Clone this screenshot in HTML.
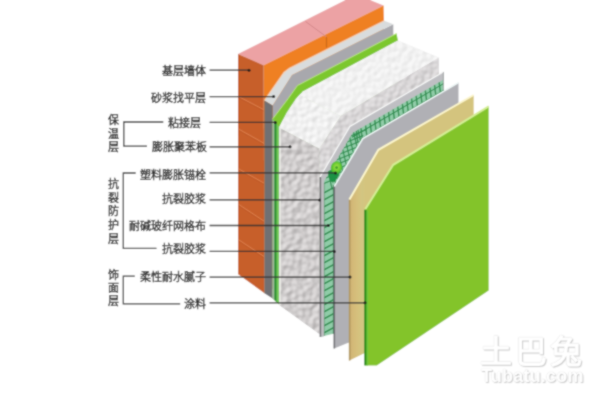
<!DOCTYPE html>
<html lang="zh-CN"><head><meta charset="utf-8">
<style>
html,body{margin:0;padding:0;background:#fff;}
body{width:606px;height:405px;position:relative;overflow:hidden;font-family:"Liberation Sans",sans-serif;}
svg{position:absolute;left:0;top:0;}
.lb{position:absolute;font-size:11px;line-height:15px;color:#383838;font-weight:bold;white-space:nowrap;}
.vl{position:absolute;font-size:11px;line-height:13.3px;color:#383838;font-weight:bold;width:12px;}
.wm{position:absolute;color:#fff;font-weight:bold;white-space:nowrap;text-shadow:0 0 1px #c8c8c8,1px 1px 1px #c8c8c8;}
#wrap{position:absolute;left:0;top:0;width:606px;height:405px;background:#fff;filter:url(#soft);}
</style></head><body><div id="wrap">
<svg width="606" height="405" viewBox="0 0 606 405">
<defs><filter id="tEnd" x="0" y="0" width="100%" height="100%" color-interpolation-filters="sRGB">
<feTurbulence type="fractalNoise" baseFrequency="0.19" numOctaves="1" seed="3" result="n"/>
<feGaussianBlur in="n" stdDeviation="0.7" result="nb"/>
<feDiffuseLighting in="nb" surfaceScale="1.6" diffuseConstant="1" lighting-color="#fff" result="l"><feDistantLight azimuth="225" elevation="45"/></feDiffuseLighting>
<feColorMatrix in="l" type="matrix" values="0 0 0 0 0  0 0 0 0 0  0 0 0 0 0  0 0 0 0 1" result="z"/>
<feComponentTransfer in="l"><feFuncR type="linear" slope="0.380" intercept="0.549"/><feFuncG type="linear" slope="0.380" intercept="0.537"/><feFuncB type="linear" slope="0.380" intercept="0.537"/><feFuncA type="linear" slope="0" intercept="1"/></feComponentTransfer>
</filter><filter id="tMain" x="0" y="0" width="100%" height="100%" color-interpolation-filters="sRGB">
<feTurbulence type="fractalNoise" baseFrequency="0.22" numOctaves="1" seed="5" result="n"/>
<feGaussianBlur in="n" stdDeviation="0.7" result="nb"/>
<feDiffuseLighting in="nb" surfaceScale="1.6" diffuseConstant="1" lighting-color="#fff" result="l"><feDistantLight azimuth="225" elevation="45"/></feDiffuseLighting>
<feColorMatrix in="l" type="matrix" values="0 0 0 0 0  0 0 0 0 0  0 0 0 0 0  0 0 0 0 1" result="z"/>
<feComponentTransfer in="l"><feFuncR type="linear" slope="0.240" intercept="0.681"/><feFuncG type="linear" slope="0.240" intercept="0.671"/><feFuncB type="linear" slope="0.240" intercept="0.675"/><feFuncA type="linear" slope="0" intercept="1"/></feComponentTransfer>
</filter><filter id="tTop" x="0" y="0" width="100%" height="100%" color-interpolation-filters="sRGB">
<feTurbulence type="fractalNoise" baseFrequency="0.2" numOctaves="1" seed="7" result="n"/>
<feGaussianBlur in="n" stdDeviation="0.7" result="nb"/>
<feDiffuseLighting in="nb" surfaceScale="1.6" diffuseConstant="1" lighting-color="#fff" result="l"><feDistantLight azimuth="225" elevation="45"/></feDiffuseLighting>
<feColorMatrix in="l" type="matrix" values="0 0 0 0 0  0 0 0 0 0  0 0 0 0 0  0 0 0 0 1" result="z"/>
<feComponentTransfer in="l"><feFuncR type="linear" slope="0.140" intercept="0.851"/><feFuncG type="linear" slope="0.140" intercept="0.851"/><feFuncB type="linear" slope="0.140" intercept="0.851"/><feFuncA type="linear" slope="0" intercept="1"/></feComponentTransfer>
</filter><filter id="tBev" x="0" y="0" width="100%" height="100%" color-interpolation-filters="sRGB">
<feTurbulence type="fractalNoise" baseFrequency="0.2" numOctaves="1" seed="9" result="n"/>
<feGaussianBlur in="n" stdDeviation="0.7" result="nb"/>
<feDiffuseLighting in="nb" surfaceScale="1.6" diffuseConstant="1" lighting-color="#fff" result="l"><feDistantLight azimuth="225" elevation="45"/></feDiffuseLighting>
<feColorMatrix in="l" type="matrix" values="0 0 0 0 0  0 0 0 0 0  0 0 0 0 0  0 0 0 0 1" result="z"/>
<feComponentTransfer in="l"><feFuncR type="linear" slope="0.200" intercept="0.804"/><feFuncG type="linear" slope="0.200" intercept="0.804"/><feFuncB type="linear" slope="0.200" intercept="0.804"/><feFuncA type="linear" slope="0" intercept="1"/></feComponentTransfer>
</filter><clipPath id="ce"><polygon points="279.0,127.5 319.2,148.5 319.5,334.0 279.0,304.8"/></clipPath><clipPath id="cm"><polygon points="319.2,148.5 340.5,116.0 438.5,57.5 438.8,76.0 438.8,270.0 319.5,334.0"/></clipPath><clipPath id="ct"><polygon points="299.5,95.0 303.5,91.3 398.0,40.5 438.5,57.5 340.5,116.0"/></clipPath><clipPath id="cb"><polygon points="279.0,127.5 287.0,112.6 295.6,99.5 299.5,95.0 340.5,116.0 319.2,148.5"/></clipPath><clipPath id="mc"><polygon points="324.2,336.3 324.2,181.0 352.5,133.0 443.7,79.6 443.7,90.0 458.5,82.6 362.8,138.5 334.2,186.7 334.2,333.4"/></clipPath><radialGradient id="ag" cx="0.5" cy="0.45" r="0.55"><stop offset="0" stop-color="#a6e44a"/><stop offset="0.6" stop-color="#6ccc32"/><stop offset="1" stop-color="#3fae38"/></radialGradient><linearGradient id="bg" gradientUnits="userSpaceOnUse" x1="349" y1="0" x2="365" y2="0"><stop offset="0" stop-color="#bfa46c"/><stop offset="0.15" stop-color="#d2b676"/><stop offset="0.5" stop-color="#d6c07c"/><stop offset="0.85" stop-color="#d2c682"/><stop offset="1" stop-color="#d4c47e"/></linearGradient><filter id="soft" x="0" y="0" width="100%" height="100%"><feConvolveMatrix order="3" kernelMatrix="1 2 1 2 8 2 1 2 1" edgeMode="duplicate"/></filter></defs>
<polygon points="238.0,54.1 263.6,65.2 383.6,5.6 356.5,-5.5" fill="#eca2a4" />
<polygon points="263.6,65.2 383.6,5.6 383.9,20.0 383.9,230.0 264.5,293.2" fill="#ef8020" />
<polygon points="238.0,54.1 263.6,65.2 264.5,293.2 238.1,274.3" fill="#c75f2b" />
<line x1="238.5" y1="96.5" x2="264.0" y2="109.8" stroke="#e08552" stroke-width="1.0" opacity="0.85"/>
<line x1="238.5" y1="98.0" x2="264.0" y2="111.3" stroke="#b4521f" stroke-width="0.8" opacity="0.5"/>
<line x1="238.5" y1="129.0" x2="264.0" y2="143.3" stroke="#e08552" stroke-width="1.0" opacity="0.85"/>
<line x1="238.5" y1="130.5" x2="264.0" y2="144.8" stroke="#b4521f" stroke-width="0.8" opacity="0.5"/>
<line x1="238.5" y1="168.8" x2="264.0" y2="183.1" stroke="#e08552" stroke-width="1.0" opacity="0.85"/>
<line x1="238.5" y1="170.3" x2="264.0" y2="184.6" stroke="#b4521f" stroke-width="0.8" opacity="0.5"/>
<line x1="238.5" y1="204.3" x2="264.0" y2="221.1" stroke="#e08552" stroke-width="1.0" opacity="0.85"/>
<line x1="238.5" y1="205.8" x2="264.0" y2="222.6" stroke="#b4521f" stroke-width="0.8" opacity="0.5"/>
<line x1="238.5" y1="239.7" x2="264.0" y2="256.5" stroke="#e08552" stroke-width="1.0" opacity="0.85"/>
<line x1="238.5" y1="241.2" x2="264.0" y2="258.0" stroke="#b4521f" stroke-width="0.8" opacity="0.5"/>
<line x1="305.5" y1="21.5" x2="326.5" y2="36.8" stroke="#d3888a" stroke-width="1" />
<line x1="326.5" y1="36.8" x2="326.5" y2="47.5" stroke="#c9661a" stroke-width="1.1" />
<polygon points="272.6,105.5 292.0,75.0 393.3,24.3 393.3,41.0 393.3,240.0 272.6,298.6" fill="#a8a8ad" />
<polygon points="264.4,100.5 284.0,72.3 289.5,68.2 384.3,20.7 393.3,24.3 292.0,75.0 272.6,105.5" fill="#d9dcdd" />
<polyline points="264.4,100.5 284.0,72.3 289.5,68.2 384.3,20.7" fill="none" stroke="#f6d2b6" stroke-width="1.2" opacity="0.85"/>
<polygon points="264.4,100.5 272.6,105.5 272.6,298.6 264.4,293.2" fill="#6f6f73" />
<polygon points="272.6,119.0 288.2,98.5 297.5,85.5 396.5,33.5 398.0,40.5 398.0,244.0 279.0,304.5" fill="#7cc72e" />
<polyline points="272.6,119.0 288.2,98.5 297.5,85.5 396.5,33.5" fill="none" stroke="#b8e67a" stroke-width="1.0" />
<polygon points="272.6,119.0 279.0,126.5 279.0,304.5 272.6,298.6" fill="#74c95a" />
<polygon points="272.6,119.0 274.4,121.5 274.4,300.0 272.6,298.6" fill="#a3b8a0" />
<polygon points="274.4,121.5 276.5,124.0 276.5,302.0 274.4,300.0" fill="#2b8c33" />
<polygon points="319.2,148.5 340.5,116.0 438.5,57.5 438.8,76.0 438.8,270.0 319.5,334.0" fill="#d9d7da" />
<polygon points="299.5,95.0 303.5,91.3 398.0,40.5 438.5,57.5 340.5,116.0" fill="#f3f3f3" />
<polygon points="279.0,127.5 287.0,112.6 295.6,99.5 299.5,95.0 340.5,116.0 319.2,148.5" fill="#f8f8f8" />
<polygon points="279.0,127.5 319.2,148.5 319.5,334.0 279.0,304.8" fill="#d5d4d5" />
<g clip-path="url(#ce)"><rect x="270" y="30" width="180" height="310" filter="url(#tEnd)"/></g>
<g clip-path="url(#cm)"><rect x="270" y="30" width="180" height="310" filter="url(#tMain)"/></g>
<g clip-path="url(#ct)"><rect x="270" y="30" width="180" height="310" filter="url(#tTop)"/></g>
<g clip-path="url(#cb)"><rect x="270" y="30" width="180" height="310" filter="url(#tBev)"/></g>
<line x1="280.0" y1="128.0" x2="280.0" y2="305.0" stroke="#eef0e8" stroke-width="1.8" opacity="0.8"/>
<polygon points="320.0,337.0 320.0,177.0 349.9,126.4 443.7,71.7 443.7,90.0 443.7,270.0 334.2,333.4" fill="#90cca8" />
<polygon points="320.0,177.0 349.9,126.4 443.7,71.7 443.7,79.6 352.5,133.0 324.2,181.0 324.2,336.3 320.0,337.0" fill="#bfbfc3" />
<g clip-path="url(#mc)"><polyline points="352.0,137.2 444.0,83.4" fill="none" stroke="#2a8b4c" stroke-width="1.1"/><polyline points="360.0,139.6 444.0,90.3" fill="none" stroke="#2a8b4c" stroke-width="1.1"/><line x1="356.3" y1="130.7" x2="357.7" y2="141.7" stroke="#2a8b4c" stroke-width="1.3"/><line x1="360.9" y1="128.0" x2="362.3" y2="139.0" stroke="#2a8b4c" stroke-width="1.3"/><line x1="365.5" y1="125.3" x2="366.9" y2="136.3" stroke="#2a8b4c" stroke-width="1.3"/><line x1="370.1" y1="122.6" x2="371.5" y2="133.6" stroke="#2a8b4c" stroke-width="1.3"/><line x1="374.7" y1="119.9" x2="376.1" y2="130.9" stroke="#2a8b4c" stroke-width="1.3"/><line x1="379.3" y1="117.2" x2="380.7" y2="128.3" stroke="#2a8b4c" stroke-width="1.3"/><line x1="383.9" y1="114.5" x2="385.3" y2="125.6" stroke="#2a8b4c" stroke-width="1.3"/><line x1="388.5" y1="111.8" x2="389.9" y2="122.9" stroke="#2a8b4c" stroke-width="1.3"/><line x1="393.1" y1="109.1" x2="394.5" y2="120.2" stroke="#2a8b4c" stroke-width="1.3"/><line x1="397.7" y1="106.4" x2="399.1" y2="117.5" stroke="#2a8b4c" stroke-width="1.3"/><line x1="402.3" y1="103.7" x2="403.7" y2="114.8" stroke="#2a8b4c" stroke-width="1.3"/><line x1="406.9" y1="101.0" x2="408.3" y2="112.1" stroke="#2a8b4c" stroke-width="1.3"/><line x1="411.5" y1="98.3" x2="412.9" y2="109.4" stroke="#2a8b4c" stroke-width="1.3"/><line x1="416.1" y1="95.7" x2="417.5" y2="106.8" stroke="#2a8b4c" stroke-width="1.3"/><line x1="420.7" y1="93.0" x2="422.1" y2="104.1" stroke="#2a8b4c" stroke-width="1.3"/><line x1="425.3" y1="90.3" x2="426.7" y2="101.4" stroke="#2a8b4c" stroke-width="1.3"/><line x1="429.9" y1="87.6" x2="431.3" y2="98.7" stroke="#2a8b4c" stroke-width="1.3"/><line x1="434.5" y1="84.9" x2="435.9" y2="96.0" stroke="#2a8b4c" stroke-width="1.3"/><line x1="439.1" y1="82.2" x2="440.5" y2="93.3" stroke="#2a8b4c" stroke-width="1.3"/><line x1="322.2" y1="184.0" x2="338.2" y2="177.7" stroke="#2a8b4c" stroke-width="1.1"/><line x1="328.2" y1="172.0" x2="332.2" y2="189.7" stroke="#2a8b4c" stroke-width="1.1"/><line x1="325.7" y1="178.0" x2="341.8" y2="171.7" stroke="#2a8b4c" stroke-width="1.1"/><line x1="331.7" y1="166.0" x2="335.8" y2="183.7" stroke="#2a8b4c" stroke-width="1.1"/><line x1="329.3" y1="172.0" x2="345.4" y2="165.6" stroke="#2a8b4c" stroke-width="1.1"/><line x1="335.3" y1="160.0" x2="339.4" y2="177.6" stroke="#2a8b4c" stroke-width="1.1"/><line x1="332.8" y1="166.0" x2="348.9" y2="159.6" stroke="#2a8b4c" stroke-width="1.1"/><line x1="338.8" y1="154.0" x2="342.9" y2="171.6" stroke="#2a8b4c" stroke-width="1.1"/><line x1="336.4" y1="160.0" x2="352.5" y2="153.6" stroke="#2a8b4c" stroke-width="1.1"/><line x1="342.4" y1="148.0" x2="346.5" y2="165.6" stroke="#2a8b4c" stroke-width="1.1"/><line x1="339.9" y1="154.0" x2="356.1" y2="147.6" stroke="#2a8b4c" stroke-width="1.1"/><line x1="345.9" y1="142.0" x2="350.1" y2="159.6" stroke="#2a8b4c" stroke-width="1.1"/><line x1="343.4" y1="148.0" x2="359.6" y2="141.6" stroke="#2a8b4c" stroke-width="1.1"/><line x1="349.4" y1="136.0" x2="353.6" y2="153.6" stroke="#2a8b4c" stroke-width="1.1"/><line x1="347.0" y1="142.0" x2="363.2" y2="135.5" stroke="#2a8b4c" stroke-width="1.1"/><line x1="353.0" y1="130.0" x2="357.2" y2="147.5" stroke="#2a8b4c" stroke-width="1.1"/><line x1="350.5" y1="136.0" x2="366.8" y2="129.5" stroke="#2a8b4c" stroke-width="1.1"/><line x1="356.5" y1="124.0" x2="360.8" y2="141.5" stroke="#2a8b4c" stroke-width="1.1"/><line x1="324" y1="192.8" x2="334" y2="187.4" stroke="#2a8b4c" stroke-width="1.6"/><line x1="324" y1="199.8" x2="334" y2="194.4" stroke="#2a8b4c" stroke-width="1.6"/><line x1="324" y1="206.8" x2="334" y2="201.4" stroke="#2a8b4c" stroke-width="1.6"/><line x1="324" y1="213.8" x2="334" y2="208.4" stroke="#2a8b4c" stroke-width="1.6"/><line x1="324" y1="220.8" x2="334" y2="215.4" stroke="#2a8b4c" stroke-width="1.6"/><line x1="324" y1="227.8" x2="334" y2="222.4" stroke="#2a8b4c" stroke-width="1.6"/><line x1="324" y1="234.8" x2="334" y2="229.4" stroke="#2a8b4c" stroke-width="1.6"/><line x1="324" y1="241.8" x2="334" y2="236.4" stroke="#2a8b4c" stroke-width="1.6"/><line x1="324" y1="248.8" x2="334" y2="243.4" stroke="#2a8b4c" stroke-width="1.6"/><line x1="324" y1="255.8" x2="334" y2="250.4" stroke="#2a8b4c" stroke-width="1.6"/><line x1="324" y1="262.8" x2="334" y2="257.4" stroke="#2a8b4c" stroke-width="1.6"/><line x1="324" y1="269.8" x2="334" y2="264.4" stroke="#2a8b4c" stroke-width="1.6"/><line x1="324" y1="276.8" x2="334" y2="271.4" stroke="#2a8b4c" stroke-width="1.6"/><line x1="324" y1="283.8" x2="334" y2="278.4" stroke="#2a8b4c" stroke-width="1.6"/><line x1="324" y1="290.8" x2="334" y2="285.4" stroke="#2a8b4c" stroke-width="1.6"/><line x1="324" y1="297.8" x2="334" y2="292.4" stroke="#2a8b4c" stroke-width="1.6"/><line x1="324" y1="304.8" x2="334" y2="299.4" stroke="#2a8b4c" stroke-width="1.6"/><line x1="324" y1="311.8" x2="334" y2="306.4" stroke="#2a8b4c" stroke-width="1.6"/><line x1="324" y1="318.8" x2="334" y2="313.4" stroke="#2a8b4c" stroke-width="1.6"/><line x1="324" y1="325.8" x2="334" y2="320.4" stroke="#2a8b4c" stroke-width="1.6"/><line x1="324" y1="332.8" x2="334" y2="327.4" stroke="#2a8b4c" stroke-width="1.6"/><line x1="324" y1="339.8" x2="334" y2="334.4" stroke="#2a8b4c" stroke-width="1.6"/><line x1="324" y1="346.8" x2="334" y2="341.4" stroke="#2a8b4c" stroke-width="1.6"/><line x1="333.4" y1="185" x2="333.4" y2="334" stroke="#2f7f4f" stroke-width="1"/></g>
<polyline points="320.0,177.0 349.9,126.4 443.7,71.7" fill="none" stroke="#f8f8f8" stroke-width="1.3" />
<line x1="320.4" y1="177.0" x2="320.4" y2="337.0" stroke="#6a6a6e" stroke-width="1.5" />
<line x1="324.3" y1="183.0" x2="324.3" y2="336.0" stroke="#3f7f55" stroke-width="0.8" opacity="0.6"/>
<line x1="443.4" y1="72.0" x2="443.4" y2="90.0" stroke="#9a9a9e" stroke-width="0.8" />
<path d="M327.8,171.5 Q333,167 340.2,170.5 Q339,176 335.5,180.5 Q333,184 330.5,181 Q328,177 327.8,171.5 Z" fill="#1e9244"/>
<ellipse cx="336.4" cy="167.6" rx="5.6" ry="6.4" transform="rotate(20 336.4 167.6)" fill="url(#ag)"/>
<circle cx="336.6" cy="167.6" r="1.3" fill="#3a9a2a"/>
<polygon points="334.2,348.5 334.2,186.7 362.8,138.5 458.5,82.6 458.5,98.0 458.5,282.0 349.5,342.3" fill="#b0b0b5" />
<polyline points="334.2,186.7 362.8,138.5 458.5,82.6" fill="none" stroke="#eef7f6" stroke-width="1.5" />
<line x1="334.3" y1="186.7" x2="334.3" y2="348.5" stroke="#6e6e72" stroke-width="1.6" />
<polygon points="349.4,360.5 349.4,199.4 378.4,149.8 473.7,95.0 473.7,110.0 473.7,290.0 363.8,353.6" fill="url(#bg)" />
<polyline points="349.4,199.4 378.4,149.8 473.7,95.0" fill="none" stroke="#fbf5cc" stroke-width="2.0" />
<line x1="349.6" y1="200.0" x2="349.6" y2="360.5" stroke="#b39a5e" stroke-width="1.6" />
<polygon points="365.2,365.4 365.2,209.3 393.2,164.8 488.7,106.3 488.7,290.5 376.8,365.4" fill="#83c42a" />
<polyline points="365.2,209.3 393.2,164.8 488.7,106.3" fill="none" stroke="#d4ee94" stroke-width="2.0" />
<line x1="367.3" y1="210.5" x2="367.3" y2="365.4" stroke="#6cc63a" stroke-width="1.6" />
<line x1="365.3" y1="209.8" x2="365.3" y2="365.4" stroke="#2a8c1c" stroke-width="2.2" />

<polyline points="163.3,122 123.8,122 123.8,146.2 147,146.2" fill="none" stroke="#3a3a3a" stroke-width="1.3"/>
<polyline points="135.7,173 123.3,173 123.3,248.4 156.5,248.4" fill="none" stroke="#3a3a3a" stroke-width="1.3"/>
<polyline points="134.8,276.2 123.3,276.2 123.3,303.8 180.2,303.8" fill="none" stroke="#3a3a3a" stroke-width="1.3"/>

<line x1="209.6" y1="70.2" x2="249" y2="70.2" stroke="#333" stroke-width="1.3"/><circle cx="249" cy="70.2" r="1.5" fill="#1a1a1a"/><line x1="209.6" y1="96.6" x2="273.6" y2="96.6" stroke="#333" stroke-width="1.3"/><circle cx="273.6" cy="96.6" r="1.5" fill="#1a1a1a"/><line x1="209.6" y1="122.4" x2="275.3" y2="122.4" stroke="#333" stroke-width="1.3"/><circle cx="275.3" cy="122.4" r="1.5" fill="#1a1a1a"/><line x1="209.6" y1="146.8" x2="290" y2="146.8" stroke="#333" stroke-width="1.3"/><circle cx="290" cy="146.8" r="1.5" fill="#1a1a1a"/><line x1="209.6" y1="172.9" x2="335.5" y2="172.9" stroke="#333" stroke-width="1.3"/><circle cx="335.5" cy="172.9" r="1.5" fill="#1a1a1a"/><line x1="209.6" y1="199.9" x2="319.6" y2="199.9" stroke="#333" stroke-width="1.3"/><circle cx="319.6" cy="199.9" r="1.5" fill="#1a1a1a"/><line x1="209.6" y1="225.5" x2="328.3" y2="225.5" stroke="#333" stroke-width="1.3"/><circle cx="328.3" cy="225.5" r="1.5" fill="#1a1a1a"/><line x1="209.6" y1="251.4" x2="334.3" y2="251.4" stroke="#333" stroke-width="1.3"/><circle cx="334.3" cy="251.4" r="1.5" fill="#1a1a1a"/><line x1="209.6" y1="277.1" x2="350" y2="277.1" stroke="#333" stroke-width="1.3"/><circle cx="350" cy="277.1" r="1.5" fill="#1a1a1a"/><line x1="209.6" y1="302.8" x2="365" y2="302.8" stroke="#333" stroke-width="1.3"/><circle cx="365" cy="302.8" r="1.5" fill="#1a1a1a"/>
</svg>
<div class="lb" style="right:400.5px;top:64.3px">基层墙体</div><div class="lb" style="right:400.5px;top:90.7px">砂浆找平层</div><div class="lb" style="right:405.2px;top:116.1px">粘接层</div><div class="lb" style="right:399.5px;top:140.2px">膨胀聚苯板</div><div class="lb" style="right:400px;top:168.4px">塑料膨胀锚栓</div><div class="lb" style="right:400px;top:192.0px">抗裂胶浆</div><div class="lb" style="right:400px;top:219.0px">耐碱玻纤网格布</div><div class="lb" style="right:400px;top:242.0px">抗裂胶浆</div><div class="lb" style="right:400px;top:270.2px">柔性耐水腻子</div><div class="lb" style="right:400px;top:296.6px">涂料</div><div class="vl" style="left:108px;top:114.3px;line-height:13.2px">保<br>温<br>层</div><div class="vl" style="left:108px;top:178.3px;line-height:13.6px">抗<br>裂<br>防<br>护<br>层</div><div class="vl" style="left:108px;top:268.5px;line-height:13.2px">饰<br>面<br>层</div>
<div class="wm" style="left:480px;top:326px;font-size:32px;letter-spacing:3px;">土巴兔</div>
<div class="wm" style="left:481px;top:366px;font-size:18px;letter-spacing:0.2px;">Tubatu.com</div>
</div></body></html>
